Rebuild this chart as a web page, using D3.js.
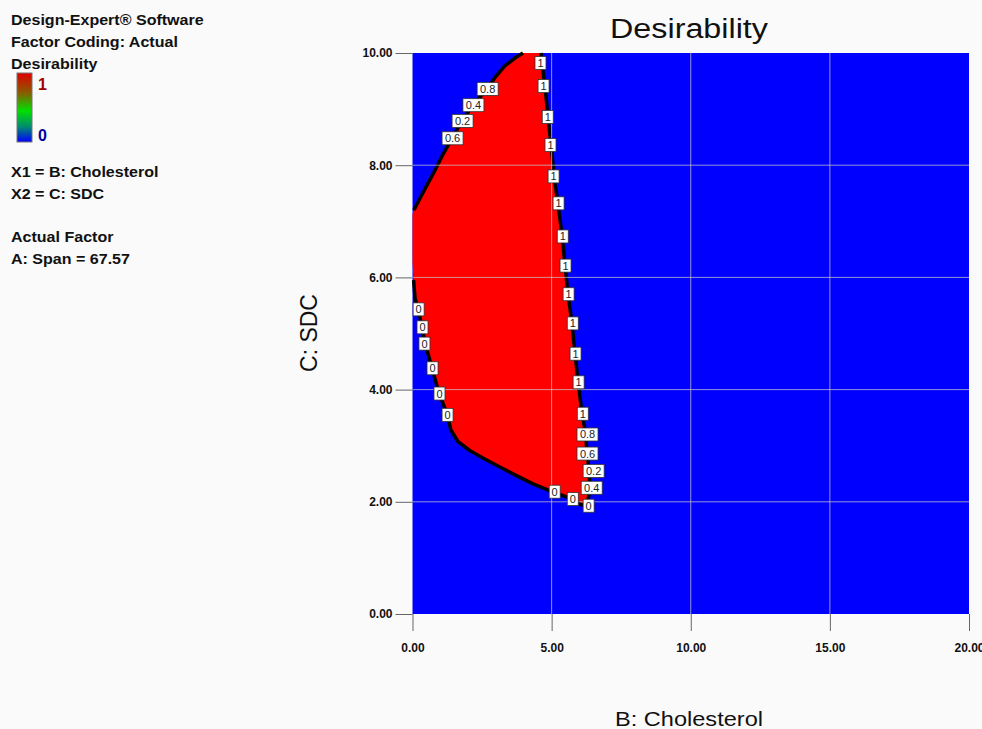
<!DOCTYPE html>
<html>
<head>
<meta charset="utf-8">
<script src="https://cdn.jsdelivr.net/npm/d3@7"></script>
<style>
  body { margin: 0; background: #fafafa; }
  text { font-family: "Liberation Sans", Arial, sans-serif; }
</style>
</head>
<body>
<svg id="chart"></svg>
<script>
// factor ranges and ticks
const xTicks = [0, 5, 10, 15, 20];
const yTicks = [0, 2, 4, 6, 8, 10];

// desirability = 1 region, boundary as [B, C]
const upperEdge = [
  [3.97, 10.0], [3.68, 9.91], [3.32, 9.77], [2.96, 9.56], [2.68, 9.36],
  [2.17, 9.07], [1.78, 8.79], [1.42, 8.48], [1.06, 8.16], [0.81, 7.91],
  [0.56, 7.68], [0.27, 7.41], [0.05, 7.20], [0, 7.13]
];
const lowerEdge = [
  [0, 6.27], [0.04, 5.95], [0.09, 5.63], [0.20, 5.44], [0.34, 5.12],
  [0.45, 4.83], [0.70, 4.39], [0.95, 3.94], [1.24, 3.57], [1.38, 3.28],
  [1.64, 3.07], [2.07, 2.91], [2.61, 2.76], [3.14, 2.62], [3.68, 2.48],
  [4.33, 2.32], [4.97, 2.19], [5.63, 2.07], [6.10, 1.94], [6.28, 1.98],
  [6.38, 2.21], [6.34, 2.57], [6.27, 2.92], [6.20, 3.28], [6.09, 3.58],
  [5.95, 4.14], [5.84, 4.65], [5.73, 5.19], [5.59, 5.70], [5.48, 6.22],
  [5.38, 6.74], [5.23, 7.29], [5.09, 7.81], [4.98, 8.36], [4.87, 8.86],
  [4.76, 9.41], [4.65, 9.82], [4.62, 10.0]
];

// contour labels [text, B, C]
const contourLabels = [
  ['1', 4.60, 9.82], ['1', 4.71, 9.41], ['1', 4.86, 8.86], ['1', 4.96, 8.36],
  ['1', 5.07, 7.80], ['1', 5.25, 7.32], ['1', 5.40, 6.73], ['1', 5.50, 6.21],
  ['1', 5.61, 5.70], ['1', 5.76, 5.18], ['1', 5.86, 4.64], ['1', 5.97, 4.13],
  ['1', 6.12, 3.57], ['0.8', 6.29, 3.20], ['0.6', 6.29, 2.86], ['0.2', 6.51, 2.55],
  ['0.4', 6.44, 2.25], ['0', 6.33, 1.93], ['0', 5.76, 2.05], ['0', 5.11, 2.18],
  ['0', 0.22, 5.43], ['0', 0.36, 5.11], ['0', 0.43, 4.82], ['0', 0.72, 4.38],
  ['0', 0.97, 3.93], ['0', 1.26, 3.55],
  ['0.8', 2.70, 9.36], ['0.4', 2.19, 9.07], ['0.2', 1.80, 8.79], ['0.6', 1.44, 8.48]
];

const legendLines = ['Design-Expert® Software', 'Factor Coding: Actual', 'Desirability'];
const factorLines = ['X1 = B: Cholesterol', 'X2 = C: SDC'];
const actualLines = ['Actual Factor', 'A: Span = 67.57'];

const width = 982, height = 729;
const plot = { left: 412.5, right: 969, top: 53, bottom: 614 };

const svg = d3.select('#chart')
  .attr('width', width)
  .attr('height', height);

const x = d3.scaleLinear().domain([0, 20]).range([plot.left, plot.right]);
const y = d3.scaleLinear().domain([0, 10]).range([plot.bottom, plot.top]);

// background field (desirability 0)
svg.append('rect')
  .attr('x', x(0)).attr('y', y(10))
  .attr('width', x(20) - x(0)).attr('height', y(0) - y(10))
  .attr('fill', '#0000ff');

const line = d3.line().x(d => x(d[0])).y(d => y(d[1]));

svg.append('path')
  .attr('d', line(upperEdge.concat(lowerEdge)) + 'Z')
  .attr('fill', '#ff0000');

// contour lines
[upperEdge.slice(0, -1), lowerEdge.slice(1)].forEach(seg => {
  svg.append('path')
    .attr('d', line(seg))
    .attr('fill', 'none')
    .attr('stroke', '#000')
    .attr('stroke-width', 3.5)
    .attr('stroke-linejoin', 'round');
});

// grid
const grid = svg.append('g').attr('stroke', '#c4c4c4').attr('stroke-opacity', 0.75);
grid.selectAll('.vx').data(xTicks.slice(1, -1)).enter().append('line')
  .attr('x1', d => x(d)).attr('x2', d => x(d))
  .attr('y1', y(0)).attr('y2', y(10));
grid.selectAll('.hy').data(yTicks.slice(1, -1)).enter().append('line')
  .attr('y1', d => y(d)).attr('y2', d => y(d))
  .attr('x1', x(0)).attr('x2', x(20));

// contour labels
const lab = svg.append('g').selectAll('g')
  .data(contourLabels)
  .enter().append('g')
  .attr('transform', d => 'translate(' + x(d[1]) + ',' + y(d[2]) + ')');
lab.append('rect')
  .attr('x', d => d[0].length > 1 ? -10.5 : -5.5)
  .attr('width', d => d[0].length > 1 ? 21 : 11)
  .attr('y', -6.5).attr('height', 13)
  .attr('fill', '#fff')
  .attr('stroke', '#333')
  .attr('stroke-width', 0.8);
lab.append('text')
  .attr('text-anchor', 'middle')
  .attr('y', 4)
  .attr('font-size', 11)
  .attr('fill', '#222')
  .text(d => d[0]);

// axes
const axisStyle = g => {
  g.select('.domain').remove();
  g.selectAll('line').attr('stroke', '#666');
  g.selectAll('text')
    .attr('font-size', 12)
    .attr('font-weight', 'bold')
    .attr('fill', '#111')
    .style('font-family', '"Liberation Sans", Arial, sans-serif');
};
svg.append('g')
  .attr('transform', 'translate(' + plot.left + ',0)')
  .call(d3.axisLeft(y).tickValues(yTicks).tickFormat(d3.format('.2f')).tickSize(17).tickPadding(3))
  .call(axisStyle);
svg.append('g')
  .attr('transform', 'translate(0,' + plot.bottom + ')')
  .call(d3.axisBottom(x).tickValues(xTicks).tickFormat(d3.format('.2f')).tickSize(17).tickPadding(12))
  .call(axisStyle);

// titles
svg.append('text')
  .attr('x', 689).attr('y', 38)
  .attr('text-anchor', 'middle')
  .attr('font-size', 27)
  .attr('textLength', 158).attr('lengthAdjust', 'spacingAndGlyphs')
  .attr('fill', '#111')
  .text('Desirability');
svg.append('text')
  .attr('x', 689).attr('y', 726)
  .attr('text-anchor', 'middle')
  .attr('font-size', 21)
  .attr('textLength', 148).attr('lengthAdjust', 'spacingAndGlyphs')
  .attr('fill', '#111')
  .text('B: Cholesterol');
svg.append('text')
  .attr('transform', 'translate(317,333) rotate(-90)')
  .attr('text-anchor', 'middle')
  .attr('font-size', 23)
  .attr('fill', '#111')
  .text('C: SDC');

// legend block
const legend = svg.append('g')
  .attr('font-size', 15)
  .attr('font-weight', 'bold')
  .attr('fill', '#111');
const addLines = (lines, y0) => {
  lines.forEach((t, i) => {
    legend.append('text')
      .attr('transform', 'translate(11,' + (y0 + i * 22) + ') scale(1.07,1)')
      .text(t);
  });
};
addLines(legendLines, 25);
addLines(factorLines, 177);
addLines(actualLines, 242);

const grad = svg.append('defs').append('linearGradient')
  .attr('id', 'desGrad')
  .attr('x1', 0).attr('x2', 0).attr('y1', 0).attr('y2', 1);
[['0%', '#e00000'], ['28%', '#8a5a00'], ['55%', '#00e000'], ['78%', '#008a70'], ['100%', '#0000ff']]
  .forEach(s => grad.append('stop').attr('offset', s[0]).attr('stop-color', s[1]));

svg.append('rect')
  .attr('x', 17).attr('y', 73)
  .attr('width', 15).attr('height', 69)
  .attr('fill', 'url(#desGrad)')
  .attr('stroke', '#777')
  .attr('stroke-width', 1);
svg.append('text')
  .attr('x', 38).attr('y', 90)
  .attr('font-size', 16).attr('font-weight', 'bold')
  .attr('fill', '#a00000')
  .text('1');
svg.append('text')
  .attr('x', 38).attr('y', 141)
  .attr('font-size', 16).attr('font-weight', 'bold')
  .attr('fill', '#0000a0')
  .text('0');
</script>
</body>
</html>
